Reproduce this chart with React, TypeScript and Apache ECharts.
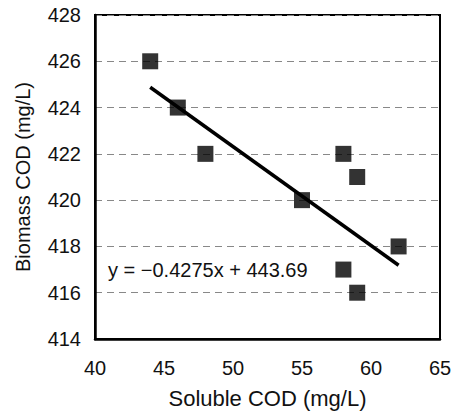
import React, { useEffect, useRef } from "react";
import * as echarts from "echarts";

const solubleCOD = [44, 46, 48, 55, 58, 59, 62, 58, 59];
const biomassCOD = [426, 424, 422, 420, 422, 421, 418, 417, 416];
const slope = -0.4275;
const intercept = 443.69;
const trendX = [44, 62];
const equationLabel = "y = \u22120.4275x + 443.69";

export default function App() {
  const ref = useRef<HTMLDivElement>(null);
  useEffect(() => {
    if (!ref.current) return;
    const chart = echarts.init(ref.current, undefined, { renderer: "svg" });
    const font = "'Liberation Sans', Arial, sans-serif";
    chart.setOption({
      animation: false,
      backgroundColor: "#fff",
      grid: {
        left: 95,
        top: 15,
        right: 18,
        bottom: 74,
        show: true,
        borderColor: "#000",
        borderWidth: 2,
        backgroundColor: "transparent",
      },
      xAxis: {
        type: "value",
        min: 40,
        max: 65,
        interval: 5,
        name: "Soluble COD (mg/L)",
        nameLocation: "middle",
        nameGap: 48,
        nameTextStyle: { fontFamily: font, fontSize: 22, color: "#111" },
        axisLine: { show: true, lineStyle: { color: "#000", width: 2.5 } },
        axisTick: { show: false },
        axisLabel: { fontFamily: font, fontSize: 20, color: "#111", margin: 19 },
        splitLine: { show: false },
      },
      yAxis: {
        type: "value",
        min: 414,
        max: 428,
        interval: 2,
        name: "Biomass COD (mg/L)",
        nameLocation: "middle",
        nameGap: 62,
        nameTextStyle: { fontFamily: font, fontSize: 20, color: "#111" },
        axisLine: { show: true, lineStyle: { color: "#000", width: 2.5 } },
        axisTick: { show: false },
        axisLabel: { fontFamily: font, fontSize: 20, color: "#111", margin: 14 },
        splitLine: {
          show: true,
          lineStyle: { color: "#888", type: [7, 5], width: 1 },
        },
      },
      series: [
        {
          type: "line",
          data: trendX.map((x) => [x, slope * x + intercept]),
          symbol: "none",
          lineStyle: { color: "#000", width: 3.5 },
          z: 3,
        },
        {
          type: "scatter",
          data: solubleCOD.map((x, i) => [x, biomassCOD[i]]),
          symbol: "rect",
          symbolSize: 16,
          itemStyle: { color: "#000" },
          z: 4,
        },
      ],
      graphic: [
        {
          type: "text",
          left: 108,
          top: 260,
          style: {
            text: equationLabel,
            fontFamily: font,
            fontSize: 20,
            fill: "#111",
          },
        },
      ],
    });
    return () => chart.dispose();
  }, []);
  return (
    <div
      ref={ref}
      style={{ position: "fixed", left: 0, top: 0, width: 458, height: 414 }}
    />
  );
}
